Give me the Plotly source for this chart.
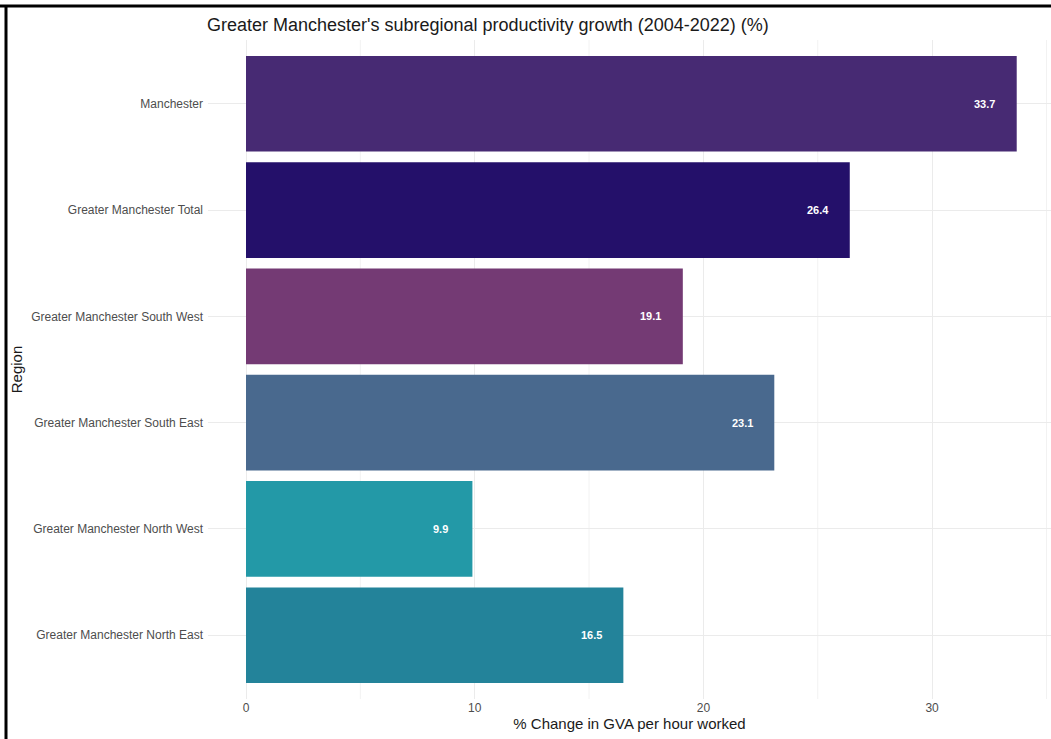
import plotly.graph_objects as go

regions = [
    "Greater Manchester North East",
    "Greater Manchester North West",
    "Greater Manchester South East",
    "Greater Manchester South West",
    "Greater Manchester Total",
    "Manchester",
]
growth = [16.5, 9.9, 23.1, 19.1, 26.4, 33.7]
colors = ["#23839a", "#2399a7", "#49698e", "#743a74", "#24106a", "#472a73"]
x_ticks = [0, 10, 20, 30]
minor_ticks = [5, 15, 25, 35]

W, H = 1051, 739
L, R, T, B = 208, 0, 40, 40
pw = W - L - R
ph = H - T - B
px_per_unit = 22.87
x0 = -(246 - L) / px_per_unit
x1 = x0 + pw / px_per_unit

fig = go.Figure()
fig.add_trace(go.Bar(
    y=regions, x=growth, orientation="h",
    marker=dict(color=colors, line=dict(width=0)),
    width=0.9, showlegend=False, hoverinfo="x+y",
))

for r, v in zip(regions, growth):
    fig.add_annotation(x=v - 1.4, y=r, text=f"<b>{v:.1f}</b>", showarrow=False,
                       font=dict(family="Liberation Sans, Arial", size=11, color="white"))

# minor vertical gridlines
for m in minor_ticks:
    fig.add_shape(type="line", xref="x", yref="paper", x0=m, x1=m, y0=0, y1=1,
                  line=dict(color="#f2f2f2", width=1), layer="below")

# black frame (top and left)
top_y = (H - B - 6) / ph
fig.add_shape(type="line", xref="paper", yref="paper",
              x0=(0 - L) / pw, x1=(W - L) / pw, y0=top_y, y1=top_y,
              line=dict(color="black", width=3))
fig.add_shape(type="line", xref="paper", yref="paper",
              x0=(6 - L) / pw, x1=(6 - L) / pw, y0=top_y, y1=(H - B - H - 2) / ph,
              line=dict(color="black", width=3))

fig.update_layout(
    width=W, height=H,
    margin=dict(l=L, r=R, t=T, b=B),
    paper_bgcolor="white", plot_bgcolor="white",
    bargap=0.1,
    font=dict(family="Liberation Sans, Arial", color="#4d4d4d"),
    title=dict(text="Greater Manchester's subregional productivity growth (2004-2022) (%)",
               x=207 / W, xanchor="left", y=1 - 25 / H, yanchor="middle",
               font=dict(size=18, color="#1a1a1a")),
    xaxis=dict(range=[x0, x1], tickvals=x_ticks, showgrid=True, gridcolor="#ebebeb",
               gridwidth=1, zeroline=False, showline=False, ticks="",
               tickfont=dict(size=12, color="#4d4d4d"),
               title=dict(text="% Change in GVA per hour worked", standoff=4,
                          font=dict(size=15, color="#1a1a1a"))),
    yaxis=dict(categoryorder="array", categoryarray=regions, range=[-0.6, 5.6],
               showgrid=True, gridcolor="#ebebeb", zeroline=False, showline=False,
               ticks="", ticklabelstandoff=4,
               tickfont=dict(size=12, color="#4d4d4d"),
               title=dict(text="Region", standoff=4,
                          font=dict(size=15, color="#1a1a1a"))),
)

fig.write_html("out.html", config={"displayModeBar": False},
               post_script="document.body.style.margin='0';")
